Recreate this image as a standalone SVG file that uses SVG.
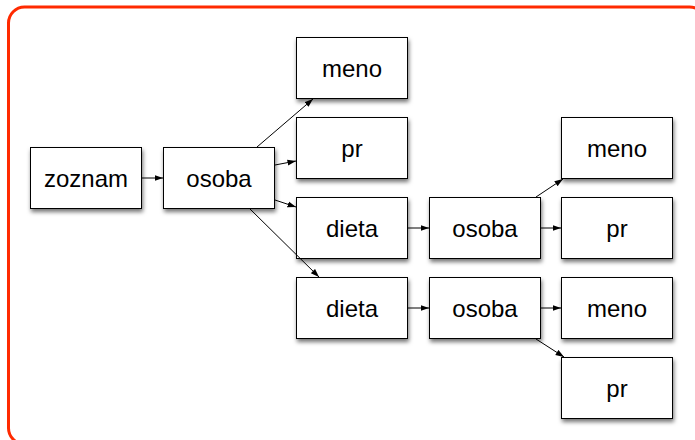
<svg xmlns="http://www.w3.org/2000/svg" width="695" height="440" viewBox="0 0 695 440">
<defs>
<filter id="sh" x="-20%" y="-20%" width="140%" height="150%">
<feDropShadow dx="1" dy="3" stdDeviation="2" flood-color="#000" flood-opacity="0.55"/>
</filter>
<marker id="ah" markerWidth="9" markerHeight="7" refX="8.5" refY="3.5" orient="auto" markerUnits="userSpaceOnUse">
<path d="M0,0.5 L8.5,3.5 L0,6.5 z" fill="#000"/>
</marker>
<style>
.box{fill:#fff;stroke:#000;stroke-width:1;filter:url(#sh)}
.lbl{font-family:"Liberation Sans",Arial,Helvetica,sans-serif;font-size:24px;fill:#000;text-anchor:middle}
.con{stroke:#000;stroke-width:1;fill:none;marker-end:url(#ah)}
</style>
</defs>
<rect x="8.5" y="7" width="697" height="437" rx="16" ry="16" fill="#fff" stroke="#ff2a00" stroke-width="3"/>
<g id="zoznam"><rect class="box" x="30.5" y="147.5" width="111" height="61"/><text class="lbl" x="86" y="186.5">zoznam</text></g>
<g id="osoba1"><rect class="box" x="163.5" y="147.5" width="111" height="61"/><text class="lbl" x="219" y="186.5">osoba</text></g>
<g id="meno1"><rect class="box" x="296.5" y="37.5" width="111" height="61"/><text class="lbl" x="352" y="76.5">meno</text></g>
<g id="pr1"><rect class="box" x="296.5" y="117.5" width="111" height="61"/><text class="lbl" x="352" y="156.5">pr</text></g>
<g id="dieta1"><rect class="box" x="296.5" y="197.5" width="111" height="61"/><text class="lbl" x="352" y="236.5">dieta</text></g>
<g id="dieta2"><rect class="box" x="296.5" y="277.5" width="111" height="61"/><text class="lbl" x="352" y="316.5">dieta</text></g>
<g id="osoba2"><rect class="box" x="429.5" y="197.5" width="111" height="61"/><text class="lbl" x="485" y="236.5">osoba</text></g>
<g id="osoba3"><rect class="box" x="429.5" y="277.5" width="111" height="61"/><text class="lbl" x="485" y="316.5">osoba</text></g>
<g id="meno2"><rect class="box" x="561.5" y="117.5" width="111" height="61"/><text class="lbl" x="617" y="156.5">meno</text></g>
<g id="pr2"><rect class="box" x="561.5" y="197.5" width="111" height="61"/><text class="lbl" x="617" y="236.5">pr</text></g>
<g id="meno3"><rect class="box" x="561.5" y="277.5" width="111" height="61"/><text class="lbl" x="617" y="316.5">meno</text></g>
<g id="pr3"><rect class="box" x="561.5" y="357.5" width="111" height="61"/><text class="lbl" x="617" y="396.5">pr</text></g>
<g id="connectors">
<line class="con" x1="142" y1="178" x2="163" y2="178"/>
<line class="con" x1="257" y1="147" x2="313" y2="99"/>
<line class="con" x1="275" y1="165" x2="296" y2="161"/>
<line class="con" x1="275" y1="200" x2="296" y2="207"/>
<line class="con" x1="250" y1="209" x2="319" y2="277"/>
<line class="con" x1="408" y1="228" x2="429" y2="228"/>
<line class="con" x1="408" y1="308" x2="429" y2="308"/>
<line class="con" x1="536" y1="197" x2="563" y2="179"/>
<line class="con" x1="541" y1="228" x2="561" y2="228"/>
<line class="con" x1="541" y1="308" x2="561" y2="308"/>
<line class="con" x1="536" y1="339" x2="564" y2="357"/>
</g>
</svg>
